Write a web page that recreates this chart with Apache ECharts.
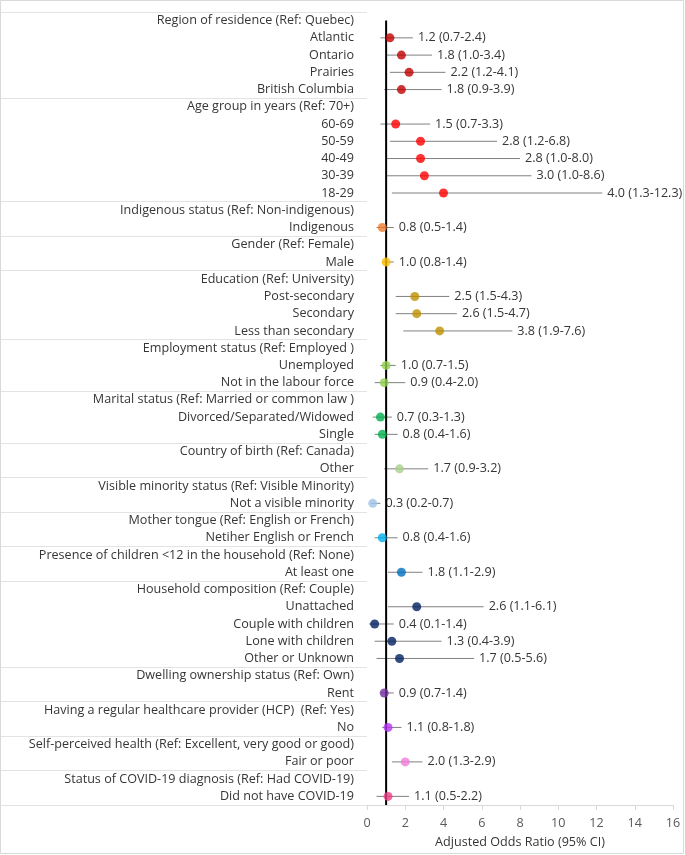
<!DOCTYPE html>
<html>
<head>
<meta charset="utf-8">
<title>Adjusted odds ratios</title>
<script src="https://cdn.jsdelivr.net/npm/echarts@6/dist/echarts.min.js"></script>
<style>
  html, body { margin: 0; padding: 0; background: #fff; }
  #main { width: 685px; height: 855px; }
</style>
</head>
<body>
<div id="main"></div>
<script type="text/javascript">
// row labels, top to bottom (group headers have no estimate)
var rowLabels = [
  'Region of residence (Ref: Quebec)', 'Atlantic', 'Ontario', 'Prairies', 'British Columbia',
  'Age group in years (Ref: 70+)', '60-69', '50-59', '40-49', '30-39', '18-29',
  'Indigenous status (Ref: Non-indigenous)', 'Indigenous',
  'Gender (Ref: Female)', 'Male',
  'Education (Ref: University)', 'Post-secondary', 'Secondary', 'Less than secondary',
  'Employment status (Ref: Employed )', 'Unemployed', 'Not in the labour force',
  'Marital status (Ref: Married or common law )', 'Divorced/Separated/Widowed', 'Single',
  'Country of birth (Ref: Canada)', 'Other',
  'Visible minority status (Ref: Visible Minority)', 'Not a visible minority',
  'Mother tongue (Ref: English or French)', 'Netiher English or French',
  'Presence of children <12 in the household (Ref: None)', 'At least one',
  'Household composition (Ref: Couple)', 'Unattached', 'Couple with children', 'Lone with children', 'Other or Unknown',
  'Dwelling ownership status (Ref: Own)', 'Rent',
  'Having a regular healthcare provider (HCP)  (Ref: Yes)', 'No',
  'Self-perceived health (Ref: Excellent, very good or good)', 'Fair or poor',
  'Status of COVID-19 diagnosis (Ref: Had COVID-19)', 'Did not have COVID-19'
];
var oddsRatio = [null, 1.2, 1.8, 2.2, 1.8, null, 1.5, 2.8, 2.8, 3.0, 4.0, null, 0.8, null, 1.0,
  null, 2.5, 2.6, 3.8, null, 1.0, 0.9, null, 0.7, 0.8, null, 1.7, null, 0.3, null, 0.8,
  null, 1.8, null, 2.6, 0.4, 1.3, 1.7, null, 0.9, null, 1.1, null, 2.0, null, 1.1];
var lowerCI = [null, 0.7, 1.0, 1.2, 0.9, null, 0.7, 1.2, 1.0, 1.0, 1.3, null, 0.5, null, 0.8,
  null, 1.5, 1.5, 1.9, null, 0.7, 0.4, null, 0.3, 0.4, null, 0.9, null, 0.2, null, 0.4,
  null, 1.1, null, 1.1, 0.1, 0.4, 0.5, null, 0.7, null, 0.8, null, 1.3, null, 0.5];
var upperCI = [null, 2.4, 3.4, 4.1, 3.9, null, 3.3, 6.8, 8.0, 8.6, 12.3, null, 1.4, null, 1.4,
  null, 4.3, 4.7, 7.6, null, 1.5, 2.0, null, 1.3, 1.6, null, 3.2, null, 0.7, null, 1.6,
  null, 2.9, null, 6.1, 1.4, 3.9, 5.6, null, 1.4, null, 1.8, null, 2.9, null, 2.2];
// which variable each row belongs to
var rowGroup = [0, 0, 0, 0, 0, 1, 1, 1, 1, 1, 1, 2, 2, 3, 3, 4, 4, 4, 4, 5, 5, 5, 6, 6, 6,
  7, 7, 8, 8, 9, 9, 10, 10, 11, 11, 11, 11, 11, 12, 12, 13, 13, 14, 14, 15, 15];
var groupColors = ['#C00000', '#FF0000', '#ED7D31', '#FFC000', '#BF9000', '#92D050', '#00B050',
  '#A9D18E', '#9DC3E6', '#00B0F0', '#0070C0', '#002060', '#7030A0', '#B535F4', '#F07AD8', '#EC3E88'];
var refValue = 1;
var xTicks = { min: 0, max: 16, step: 2 };

var fontName = 'Open Sans';
var fontSize = 12.6;
var textColor = '#363636';

var barData = [];
var pointData = [];
for (var i = 0; i < rowLabels.length; i++) {
  if (oddsRatio[i] === null) continue;
  barData.push([lowerCI[i], i, upperCI[i], oddsRatio[i]]);
  pointData.push({ value: [oddsRatio[i], i], itemStyle: { color: groupColors[rowGroup[i]] } });
}

var myChart = echarts.init(document.getElementById('main'));

var option = {
  animation: false,
  graphic: [{
    type: 'rect',
    shape: { x: 0.5, y: 0.5, width: 683, height: 853 },
    style: { fill: null, stroke: '#d9d9d9', lineWidth: 1 },
    silent: true
  }],
  grid: [
    { left: 367, right: 12, top: 12, bottom: 50 },
    { left: 0, width: 367, top: 12, bottom: 50 }
  ],
  xAxis: [{
    gridIndex: 0,
    type: 'value',
    min: xTicks.min, max: xTicks.max, interval: xTicks.step,
    axisLine: { show: true, lineStyle: { color: '#d9d9d9' } },
    axisTick: { show: true, length: 5, lineStyle: { color: '#d9d9d9' } },
    splitLine: { show: false },
    axisLabel: { color: '#595959', fontSize: fontSize, fontFamily: fontName, margin: 12 },
    name: 'Adjusted Odds Ratio (95% CI)',
    nameLocation: 'middle',
    nameGap: 31,
    nameTextStyle: { color: textColor, fontSize: fontSize, fontFamily: fontName }
  }, {
    gridIndex: 1, type: 'value', min: 0, max: 1, show: false
  }],
  yAxis: [{
    gridIndex: 0,
    type: 'category',
    data: rowLabels,
    inverse: true,
    show: false
  }, {
    gridIndex: 1,
    type: 'category',
    data: rowLabels,
    inverse: true,
    position: 'right',
    axisLine: { show: true, lineStyle: { color: '#d9d9d9' } },
    axisTick: { show: false },
    axisLabel: {
      inside: true, interval: 0, margin: 13,
      color: textColor, fontSize: fontSize, fontFamily: fontName
    },
    splitLine: {
      show: true,
      interval: function (index) { return oddsRatio[index] === null; },
      lineStyle: { color: '#e3e3e3' }
    }
  }],
  series: [{
    // confidence interval lines + text
    type: 'custom',
    xAxisIndex: 0, yAxisIndex: 0,
    z: 2,
    data: barData,
    renderItem: function (params, api) {
      var a = api.coord([api.value(0), api.value(1)]);
      var b = api.coord([api.value(2), api.value(1)]);
      var txt = api.value(3).toFixed(1) + ' (' + api.value(0).toFixed(1) + '-' + api.value(2).toFixed(1) + ')';
      return {
        type: 'group',
        children: [{
          type: 'line',
          shape: { x1: a[0], y1: a[1], x2: b[0], y2: b[1] },
          style: { stroke: '#808080', lineWidth: 1 }
        }, {
          type: 'text',
          style: {
            x: b[0] + 5, y: b[1], text: txt,
            fill: textColor, font: fontSize + 'px "' + fontName + '"',
            align: 'left', verticalAlign: 'middle'
          }
        }]
      };
    }
  }, {
    // reference line at OR = 1
    type: 'custom',
    xAxisIndex: 0, yAxisIndex: 0,
    z: 3,
    data: [[refValue, 0]],
    renderItem: function (params, api) {
      var p = api.coord([api.value(0), api.value(1)]);
      var bottom = params.coordSys.y + params.coordSys.height;
      return {
        type: 'line',
        shape: { x1: p[0], y1: p[1], x2: p[0], y2: bottom },
        style: { stroke: '#000', lineWidth: 2 }
      };
    }
  }, {
    type: 'scatter',
    xAxisIndex: 0, yAxisIndex: 0,
    z: 4,
    symbol: 'circle',
    symbolSize: 9,
    data: pointData
  }]
};
myChart.setOption(option);
</script>
</body>
</html>
